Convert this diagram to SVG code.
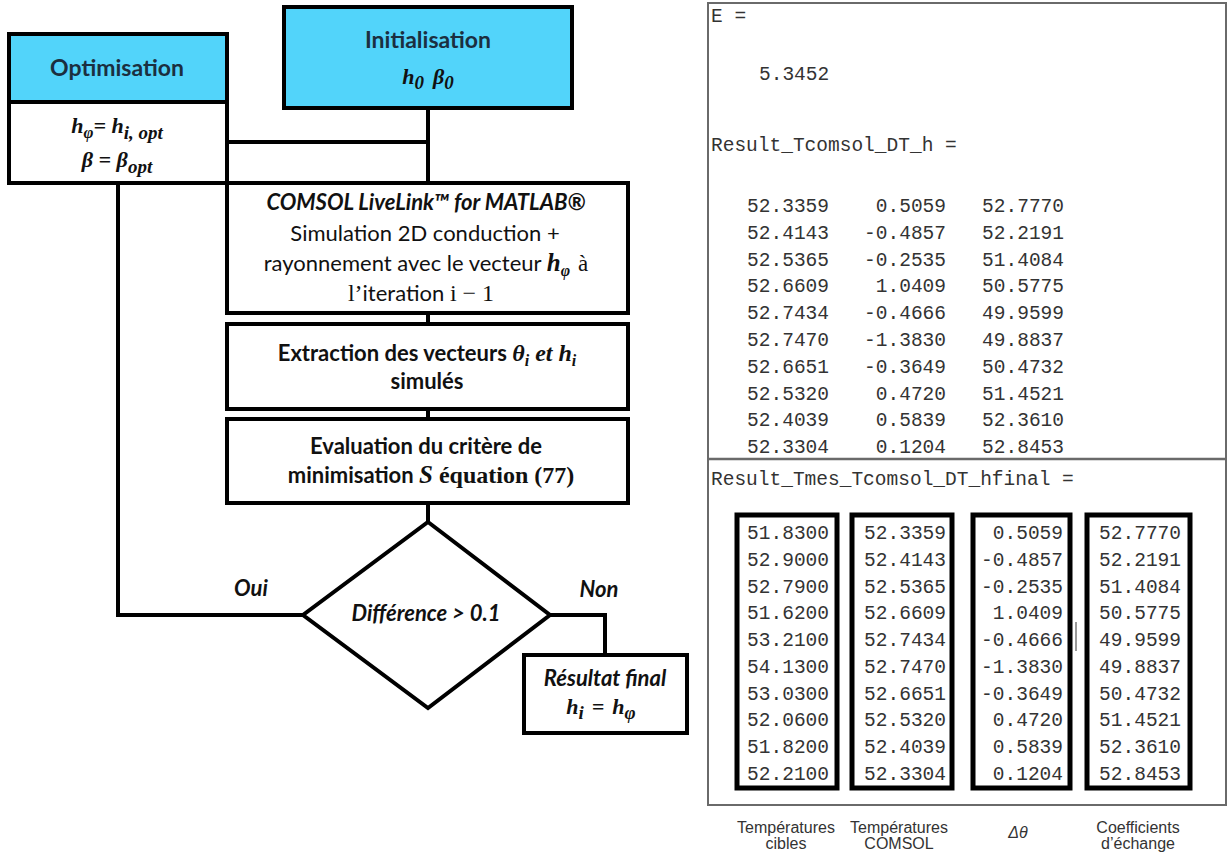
<svg xmlns="http://www.w3.org/2000/svg" width="1230" height="854" viewBox="0 0 1230 854">
<style>
.box{fill:#fff;stroke:#000;stroke-width:4}
.blue{fill:#52d4fa;stroke:#000;stroke-width:4}
.conn{fill:none;stroke:#000;stroke-width:4}
.t{font-family:Lato,"Liberation Sans",sans-serif;font-size:22px;fill:#111;text-anchor:middle}
.b{font-weight:bold}
.i{font-style:italic}
.hd{font-family:Lato,"Liberation Sans",sans-serif;font-size:23px;font-weight:bold;fill:#1b2f40;text-anchor:middle}
.m{font-family:"Liberation Serif","DejaVu Serif",serif;font-weight:bold;font-style:italic}
.sr{font-family:"Liberation Serif","DejaVu Serif",serif}
.mono{font-family:"Liberation Mono","Courier New",monospace;font-size:19.5px;fill:#333}
.num{font-family:"Liberation Mono","Courier New",monospace;font-size:19.5px;fill:#333;text-anchor:end}
.col{fill:#fff;stroke:#000;stroke-width:5}
.lab{font-family:"Liberation Sans",Arial,sans-serif;font-size:16px;fill:#333;text-anchor:middle}
</style>

<g id="connectors">
<path class="conn" d="M428 108V183"/>
<path class="conn" d="M227 142H428"/>
<path class="conn" d="M428 313V324"/>
<path class="conn" d="M428 409V419"/>
<path class="conn" d="M428 503V522"/>
<path class="conn" d="M118 183V615H303"/>
<path class="conn" d="M550 615H605V655"/>
<text class="t b i" x="251" y="596">Oui</text>
<text class="t b i" x="599" y="597">Non</text>
</g>

<g id="optimisation">
<rect class="blue" x="9" y="34" width="218" height="68"/>
<rect class="box" x="9" y="102" width="218" height="81"/>
<text class="hd" x="117" y="76">Optimisation</text>
<text class="t m" x="117" y="133" font-size="27"><tspan>h</tspan><tspan font-size="17" dy="5">φ</tspan><tspan dy="-5">= h</tspan><tspan font-size="19" dy="6">i, opt</tspan></text>
<text class="t m" x="117" y="167" font-size="27"><tspan>β = β</tspan><tspan font-size="19" dy="6">opt</tspan></text>
</g>

<g id="initialisation">
<rect class="blue" x="284" y="7" width="288" height="101"/>
<text class="hd" x="428" y="48">Initialisation</text>
<text class="t m" x="428" y="84" font-size="29" fill="#1b2f40"><tspan>h</tspan><tspan font-size="19" dy="5">0</tspan><tspan dy="-5" dx="9">β</tspan><tspan font-size="19" dy="5">0</tspan></text>
</g>

<g id="comsol">
<rect class="box" x="227" y="183" width="401" height="130"/>
<text class="t b i" x="426" y="210">COMSOL LiveLink™ for MATLAB®</text>
<text class="t" x="425" y="241">Simulation 2D conduction +</text>
<text class="t" x="426" y="271">rayonnement avec le vecteur <tspan class="m" font-size="25">h</tspan><tspan class="m" font-size="16" dy="5">φ</tspan><tspan class="sr" dy="-5" dx="8" font-size="23">à</tspan></text>
<text class="t" x="421" y="301"><tspan class="sr" font-size="24">l’</tspan>iteration <tspan class="sr" font-size="24">i − 1</tspan></text>
</g>

<g id="extraction">
<rect class="box" x="227" y="324" width="401" height="85"/>
<text class="t b" x="427" y="361">Extraction des vecteurs <tspan class="m" font-size="24">θ</tspan><tspan class="m" font-size="16" dy="5">i</tspan><tspan class="m" font-size="24" dy="-5"> et h</tspan><tspan class="m" font-size="16" dy="5">i</tspan></text>
<text class="t b" x="427" y="389">simulés</text>
</g>

<g id="evaluation">
<rect class="box" x="227" y="419" width="401" height="84"/>
<text class="t b" x="426" y="454">Evaluation du critère de</text>
<text class="t b" x="431" y="483">minimisation <tspan class="m" font-size="25">S</tspan><tspan class="sr" font-size="24"> équation (77)</tspan></text>
</g>

<g id="decision">
<polygon class="box" points="428,522 550,615 428,708 303,615"/>
<text class="t b i" x="426" y="621" font-size="23">Différence &gt; 0.1</text>
</g>

<g id="resultat">
<rect class="box" x="524" y="655" width="163" height="78"/>
<text class="t b i" x="605" y="686" font-size="23">Résultat final</text>
<text class="t m" x="601" y="714" font-size="29"><tspan>h</tspan><tspan font-size="19" dy="5">i</tspan><tspan dy="-5" dx="8">=</tspan><tspan dx="8">h</tspan><tspan font-size="19" dy="5">φ</tspan></text>
</g>

<g id="matlab-output">
<rect x="708" y="3" width="518" height="802" fill="#fff" stroke="#6a6a6a" stroke-width="2"/>
<line x1="708" y1="459" x2="1226" y2="459" stroke="#6a6a6a" stroke-width="2.5"/>
<text class="mono" x="711" y="22">E =</text>
<text class="mono" x="759" y="80">5.3452</text>
<text class="mono" x="711" y="151">Result_Tcomsol_DT_h =</text>
<g class="num">
<text x="829" y="212">52.3359</text><text x="946" y="212">0.5059</text><text x="1064" y="212">52.7770</text>
<text x="829" y="239">52.4143</text><text x="946" y="239">-0.4857</text><text x="1064" y="239">52.2191</text>
<text x="829" y="266">52.5365</text><text x="946" y="266">-0.2535</text><text x="1064" y="266">51.4084</text>
<text x="829" y="292">52.6609</text><text x="946" y="292">1.0409</text><text x="1064" y="292">50.5775</text>
<text x="829" y="319">52.7434</text><text x="946" y="319">-0.4666</text><text x="1064" y="319">49.9599</text>
<text x="829" y="346">52.7470</text><text x="946" y="346">-1.3830</text><text x="1064" y="346">49.8837</text>
<text x="829" y="373">52.6651</text><text x="946" y="373">-0.3649</text><text x="1064" y="373">50.4732</text>
<text x="829" y="400">52.5320</text><text x="946" y="400">0.4720</text><text x="1064" y="400">51.4521</text>
<text x="829" y="426">52.4039</text><text x="946" y="426">0.5839</text><text x="1064" y="426">52.3610</text>
<text x="829" y="453">52.3304</text><text x="946" y="453">0.1204</text><text x="1064" y="453">52.8453</text>
</g>
<text class="mono" x="711" y="485">Result_Tmes_Tcomsol_DT_hfinal =</text>
<rect class="col" x="737" y="515" width="100" height="273"/>
<rect class="col" x="852" y="515" width="100" height="273"/>
<rect class="col" x="973" y="515" width="97" height="273"/>
<rect class="col" x="1087" y="515" width="103" height="273"/>
<line x1="1076" y1="622" x2="1076" y2="651" stroke="#777" stroke-width="1.5"/>
<g class="num">
<text x="829" y="539">51.8300</text><text x="946" y="539">52.3359</text><text x="1063" y="539">0.5059</text><text x="1181" y="539">52.7770</text>
<text x="829" y="566">52.9000</text><text x="946" y="566">52.4143</text><text x="1063" y="566">-0.4857</text><text x="1181" y="566">52.2191</text>
<text x="829" y="593">52.7900</text><text x="946" y="593">52.5365</text><text x="1063" y="593">-0.2535</text><text x="1181" y="593">51.4084</text>
<text x="829" y="619">51.6200</text><text x="946" y="619">52.6609</text><text x="1063" y="619">1.0409</text><text x="1181" y="619">50.5775</text>
<text x="829" y="646">53.2100</text><text x="946" y="646">52.7434</text><text x="1063" y="646">-0.4666</text><text x="1181" y="646">49.9599</text>
<text x="829" y="673">54.1300</text><text x="946" y="673">52.7470</text><text x="1063" y="673">-1.3830</text><text x="1181" y="673">49.8837</text>
<text x="829" y="700">53.0300</text><text x="946" y="700">52.6651</text><text x="1063" y="700">-0.3649</text><text x="1181" y="700">50.4732</text>
<text x="829" y="726">52.0600</text><text x="946" y="726">52.5320</text><text x="1063" y="726">0.4720</text><text x="1181" y="726">51.4521</text>
<text x="829" y="753">51.8200</text><text x="946" y="753">52.4039</text><text x="1063" y="753">0.5839</text><text x="1181" y="753">52.3610</text>
<text x="829" y="780">52.2100</text><text x="946" y="780">52.3304</text><text x="1063" y="780">0.1204</text><text x="1181" y="780">52.8453</text>
</g>
</g>

<g id="labels">
<text class="lab" x="786" y="833">Températures</text>
<text class="lab" x="786" y="849">cibles</text>
<text class="lab" x="899" y="833">Températures</text>
<text class="lab" x="899" y="849">COMSOL</text>
<text class="lab" x="1018" y="838" font-style="italic">Δθ</text>
<text class="lab" x="1138" y="833">Coefficients</text>
<text class="lab" x="1138" y="849">d’échange</text>
</g>
</svg>
